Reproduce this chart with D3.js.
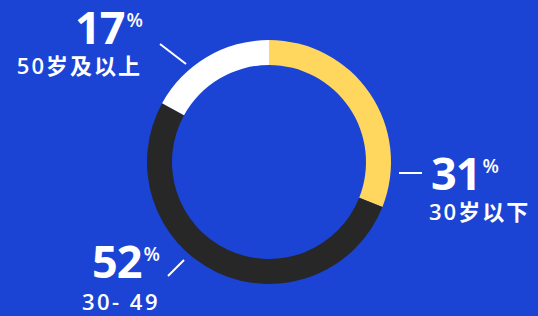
<!DOCTYPE html>
<html>
<head>
<meta charset="utf-8">
<script src="https://cdn.jsdelivr.net/npm/d3@7"></script>
<style>
  html, body { margin: 0; padding: 0; background: #1b44d5; }
  svg { display: block; }
</style>
</head>
<body>
<div id="chart"></div>
<script>
(function() {
    const groups = ["30岁以下", "30-49", "50岁及以上"];
    const shares = [31, 52, 17];

    const config = {
        width: 538,
        height: 316,
        center: [269, 162],
        outer: 122,
        inner: 97,
        colors: { bg: "#1b44d5", "30岁以下": "#ffd75e", "30-49": "#272727", "50岁及以上": "#ffffff" },
        font: '"Open Sans", "Noto Sans CJK SC", sans-serif'
    };

    // where each callout sits, relative to the donut centre
    const callouts = {
        "30岁以下": { line: [[130, 11], [153, 11]], x: 162, y: 28, anchor: "start", labelX: 160, labelY: 58 },
        "30-49":   { line: [[-101, 114], [-85, 98]], x: -109, y: 116, anchor: "end", labelX: -109, labelY: 148 },
        "50岁及以上": { line: [[-109, -118], [-83, -98]], x: -126, y: -118, anchor: "end", labelX: -127, labelY: -88 }
    };

    const data = groups.map((g, i) => ({ group: g, value: shares[i] }));

    const svg = d3.select("#chart").append("svg")
        .attr("width", config.width)
        .attr("height", config.height);

    svg.append("rect")
        .attr("width", config.width)
        .attr("height", config.height)
        .attr("fill", config.colors.bg);

    const g = svg.append("g")
        .attr("transform", `translate(${config.center[0]},${config.center[1]})`);

    const pie = d3.pie().sort(null).value(d => d.value);
    const arc = d3.arc().innerRadius(config.inner).outerRadius(config.outer);

    g.selectAll("path")
        .data(pie(data))
        .enter().append("path")
        .attr("d", arc)
        .attr("fill", d => config.colors[d.data.group]);

    const notes = g.selectAll(".note")
        .data(data)
        .enter().append("g")
        .attr("class", "note");

    notes.append("line")
        .attr("x1", d => callouts[d.group].line[0][0])
        .attr("y1", d => callouts[d.group].line[0][1])
        .attr("x2", d => callouts[d.group].line[1][0])
        .attr("y2", d => callouts[d.group].line[1][1])
        .attr("stroke", "#fff")
        .attr("stroke-width", 2);

    const pct = notes.append("text")
        .attr("x", d => callouts[d.group].x)
        .attr("y", d => callouts[d.group].y)
        .attr("text-anchor", d => callouts[d.group].anchor)
        .attr("fill", "#fff")
        .attr("font-family", config.font)
        .attr("font-weight", 700);

    pct.append("tspan")
        .attr("font-size", "45px")
        .attr("letter-spacing", "-1px")
        .text(d => d.value);

    pct.append("tspan")
        .attr("font-size", "19px")
        .attr("font-weight", 600)
        .attr("dx", 2)
        .attr("dy", -17)
        .text("%");

    // the 30-49 label has its hyphen set apart
    notes.append("text")
        .attr("x", d => callouts[d.group].labelX)
        .attr("y", d => callouts[d.group].labelY)
        .attr("text-anchor", d => callouts[d.group].anchor)
        .attr("fill", "#fff")
        .attr("font-family", config.font)
        .attr("font-weight", 600)
        .attr("font-size", "22px")
        .attr("letter-spacing", d => d.group === "30-49" ? "2.5px" : "2px")
        .text(d => d.group === "30-49" ? "30- 49" : d.group);
})();
</script>
</body>
</html>
